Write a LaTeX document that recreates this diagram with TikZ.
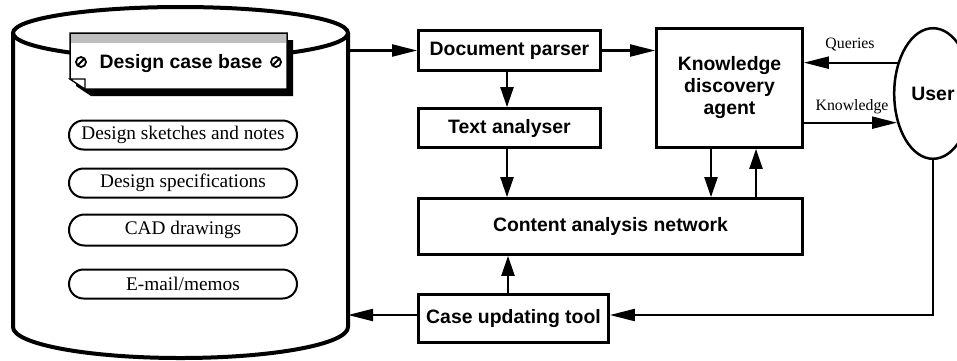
\documentclass[tikz,border=0pt]{standalone}
\usepackage{fontspec}
\setmainfont{Liberation Serif}
\newfontfamily\sansfont{Liberation Sans}
\usetikzlibrary{arrows.meta,shapes.misc,shapes.geometric}
\begin{document}
\begin{tikzpicture}[x=1pt,y=-1pt,
  box/.style={draw,line width=2.7pt,fill=white,inner sep=0pt,align=center,
    font=\sansfont\bfseries\fontsize{19.4}{22}\selectfont},
  pill/.style={draw,rounded rectangle,line width=2pt,minimum width=228pt,
    minimum height=29pt,inner sep=0pt,font=\fontsize{19.3}{22}\selectfont},
  conn/.style={line width=2.2pt},
  harr/.style={conn,-{Triangle[length=25pt,width=12pt]}},
  varr/.style={conn,-{Triangle[length=20pt,width=13pt]}},
  lbl/.style={inner sep=0pt,font=\fontsize{15.8}{18}\selectfont},
  screw/.style={line width=1.8pt},
]
\clip (0,0) rectangle (957,360);
\fill[white] (0,0) rectangle (957,360);

% cylinder (case base store)
\draw[line width=4pt,fill=white] (13,33) -- (13,327)
  .. controls (13,344.1) and (88,358) .. (180.5,358)
  .. controls (273,358) and (348,344.1) .. (348,327) -- (348,33);
\draw[line width=4pt] (180.5,33) ellipse [x radius=167.5pt, y radius=26pt];
\coordinate (cylA) at (348,50.5);
\coordinate (cylB) at (348,315);

% card
\fill (76,40) -- (293,40) -- (293,96) -- (91,96) -- (76,86) -- cycle;
\draw[line width=1.5pt,fill=white] (70,33) -- (287,33) -- (287,89) -- (85,89) -- (70,79) -- cycle;
\fill[black!25] (71,34) rectangle (286,43);
\draw[line width=1.2pt,fill=white] (70,79) -- (85,79) -- (85,89) -- cycle;
\node[inner sep=0pt,font=\sansfont\bfseries\fontsize{19.4}{22}\selectfont] (dcb) at (181,64) {Design case base};
\draw[screw] (81,62) circle[radius=5pt];
\draw[screw] (77.5,65.5) -- (84.5,58.5);
\draw[screw] (276,62) circle[radius=5pt];
\draw[screw] (272.5,65.5) -- (279.5,58.5);

% pills
\node[pill] (p1) at (183,135) {Design sketches and notes};
\node[pill] (p2) at (183,183) {Design specifications};
\node[pill,minimum height=31pt] (p3) at (183,230) {CAD drawings};
\node[pill] (p4) at (183,284) {E-mail/memos};

% boxes
\node[box,minimum width=182pt,minimum height=40pt] (doc) at (509.5,50.5) {Document parser};
\node[box,minimum width=182pt,minimum height=39pt] (txt) at (509.5,128) {Text analyser};
\node[box,minimum width=146pt,minimum height=119pt] (kda) at (729.5,88) {Knowledge\\discovery\\agent};
\node[box,minimum width=384pt,minimum height=56pt] (can) at (610.5,226.5) {Content analysis network};
\node[box,minimum width=190pt,minimum height=48pt] (cut) at (513.5,318.5) {Case updating tool};
\node[draw,ellipse,line width=2.5pt,minimum width=77.6pt,minimum height=130.6pt,inner sep=0pt,
  font=\sansfont\bfseries\fontsize{19.4}{22}\selectfont] (user) at (933,93.5) {User};

% labels
\node[lbl] (ql) at (850,45) {Queries};
\node[lbl] (kl) at (852,107) {Knowledge};

% connectors
\draw[harr] (cylA) -- (doc.west);
\draw[harr] (doc.east) -- (doc.east -| kda.west);
\draw[varr] ([xshift=-2.5pt]doc.south) -- ([xshift=-2.5pt]txt.north);
\draw[varr] ([xshift=-2.5pt]txt.south) -- ([xshift=-2.5pt]txt.south |- can.north);
\draw[varr] ([xshift=-18.5pt]kda.south) -- ([xshift=-18.5pt]kda.south |- can.north);
\draw[varr] ([xshift=26.5pt]kda.south |- can.north) -- ([xshift=26.5pt]kda.south);
\draw[varr] ([xshift=-5.5pt]cut.north) -- ([xshift=-5.5pt]cut.north |- can.south);
\draw[harr] (user.139.5) -- (user.139.5 -| kda.east);
\draw[harr] (kda.east |- user.219.2) -- (user.219.2);
\draw[harr] (user.south) |- ([yshift=3.5pt]cut.east);
\draw[harr] ([yshift=3.5pt]cut.west) -- (cylB);
\end{tikzpicture}
\end{document}
